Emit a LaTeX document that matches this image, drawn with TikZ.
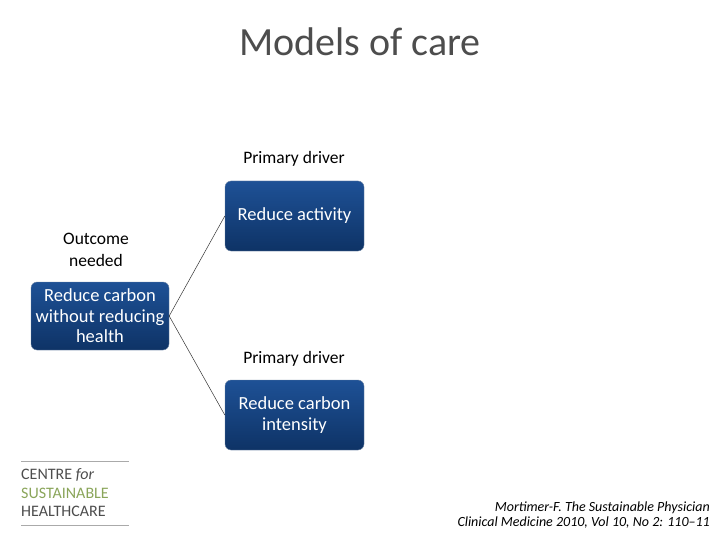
\documentclass[tikz,border=0pt]{standalone}
\usepackage{fontspec}
\setmainfont{Carlito}
\usetikzlibrary{positioning, calc}
\definecolor{csbluetop}{HTML}{1E5196}
\definecolor{csbluebot}{HTML}{0E3366}
\definecolor{csgray}{HTML}{4D4D4D}
\definecolor{csgreen}{HTML}{8AA55A}
\definecolor{csline}{HTML}{AAAAAA}

\begin{document}
\begin{tikzpicture}[x=1pt, y=-1pt,
    carebox/.style={draw=csbluebot!60!white, top color=csbluetop, bottom color=csbluebot,
      rounded corners=6pt, text=white, minimum width=139pt, minimum height=70pt,
      align=center, inner sep=1pt, font=\fontsize{18.5}{20.5}\selectfont},
    carelabel/.style={text=black, align=center, font=\fontsize{17.5}{22}\selectfont}]
    \useasboundingbox (0,0) rectangle (720,540);
    \node[text=csgray, font=\fontsize{40}{44}\selectfont] (title) at (360,42) {Models of care};
    % boxes
    \node[carebox, minimum width=138pt, minimum height=68pt] (outcome) at (100,316)
          {Reduce carbon\\without reducing\\health};
    \node[carebox] (activity) at (294.5,216) {Reduce activity};
    \node[carebox] (intensity) at (294.5,415) {Reduce carbon\\intensity};
    \node[carelabel] (outlbl) at (96,250) {Outcome\\needed};
    \node[carelabel] (drv1) at (294,159) {Primary driver};
    \node[carelabel] (drv2) at (294,359) {Primary driver};
    \draw[black!80, line width=0.5pt] (outcome.east) -- (activity.west);
    \draw[black!80, line width=0.5pt] (outcome.east) -- (intensity.west);
    % logo
    \draw[csline, line width=0.6pt] (21,461) coordinate (logotop) -- (129,461);
    \draw[csline, line width=0.6pt] (21,525) coordinate (logobot) -- (129,525);
    \node[anchor=west, inner sep=0pt, align=left, font=\fontsize{16}{18.5}\selectfont] (logo) at (21,493)
          {\textcolor{csgray}{CENTRE \textit{for}}\\\textcolor{csgreen}{SUSTAINABLE}\\\textcolor{csgray}{HEALTHCARE}};
    % reference
    \node[anchor=east, inner sep=0pt, align=right, font=\fontsize{14}{15}\selectfont\itshape] (cite) at (710,515)
          {Mortimer-F. The Sustainable Physician\\Clinical Medicine 2010, Vol 10, No 2: 110--11};
\end{tikzpicture}
\end{document}
